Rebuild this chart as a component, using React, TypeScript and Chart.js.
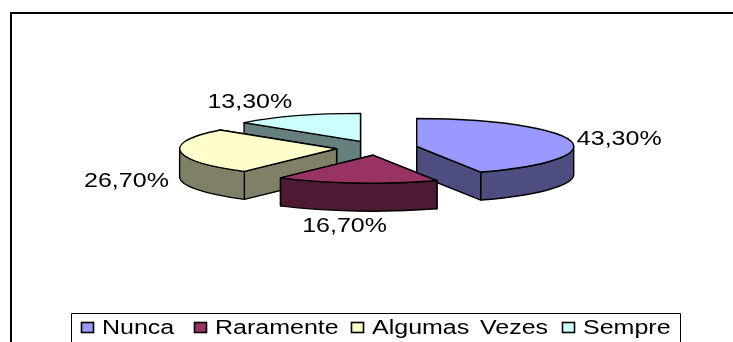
import React, { useEffect, useRef } from "react";
import { Chart, registerables } from "chart.js";

Chart.register(...registerables);

const categories = ["Nunca", "Raramente", "Algumas Vezes", "Sempre"];
const values = [43.3, 16.7, 26.7, 13.3];
const valueLabels = ["43,30%", "16,70%", "26,70%", "13,30%"];
const topColors = ["#9999FF", "#993366", "#FFFFCC", "#CCFFFF"];
const sideColors = ["#4D4D80", "#4D1A33", "#808066", "#668080"];

const RADIUS = 157;
const SQUASH = 28 / 157;
const DEPTH = 28;
const EXPLODE = 40.6;
const FONT = '20px "Liberation Sans", Arial, sans-serif';
const STRETCH = 1.25;
const DRAW_ORDER = [3, 2, 0, 1];
const LABEL_NUDGE = [
  [49, -2],
  [-12, 43],
  [-54, 29],
  [-47, -14],
];
const LEGEND_X = [81, 194, 351, 562];

function stretchedText(ctx: CanvasRenderingContext2D, text: string, x: number, y: number, align: "left" | "center") {
  ctx.save();
  ctx.translate(x, y);
  ctx.scale(STRETCH, 1);
  ctx.font = FONT;
  ctx.fillStyle = "#000";
  ctx.textAlign = align;
  ctx.textBaseline = "alphabetic";
  (ctx as any).wordSpacing = "3px";
  ctx.fillText(text, 0, 0);
  ctx.restore();
}

const pie3d = {
  id: "pie3d",
  beforeDraw(chart: any) {
    const { ctx } = chart;
    ctx.save();
    ctx.fillStyle = "#fff";
    ctx.fillRect(0, 0, chart.width, chart.height);
    ctx.strokeStyle = "#000";
    ctx.lineWidth = 2;
    ctx.beginPath();
    ctx.moveTo(11, chart.height);
    ctx.lineTo(11, 13);
    ctx.lineTo(chart.width, 13);
    ctx.stroke();
    ctx.restore();
  },
  beforeDatasetsDraw(chart: any) {
    const { ctx } = chart;
    const arcs = chart.getDatasetMeta(0).data;
    const centre = (el: any) => {
      const mid = (el.startAngle + el.endAngle) / 2;
      return {
        x: el.x + Math.cos(mid) * EXPLODE,
        y: el.y + Math.sin(mid) * EXPLODE * SQUASH,
      };
    };
    const rim = (c: any, el: any, a: number) => ({
      x: c.x + Math.cos(a) * el.outerRadius,
      y: c.y + Math.sin(a) * el.outerRadius * SQUASH,
    });

    ctx.save();
    ctx.lineWidth = 1.4;
    ctx.strokeStyle = "#000";
    ctx.lineJoin = "round";

    DRAW_ORDER.forEach((i) => {
      const el = arcs[i];
      const c = centre(el);
      const side = sideColors[i];
      const edges = [el.startAngle, el.endAngle]
        .map((a) => rim(c, el, a))
        .sort((p, q) => p.y - q.y);

      edges.forEach((p) => {
        ctx.beginPath();
        ctx.moveTo(c.x, c.y);
        ctx.lineTo(p.x, p.y);
        ctx.lineTo(p.x, p.y + DEPTH);
        ctx.lineTo(c.x, c.y + DEPTH);
        ctx.closePath();
        ctx.fillStyle = side;
        ctx.fill();
        ctx.stroke();
      });

      const from = Math.max(el.startAngle, 0);
      const to = Math.min(el.endAngle, Math.PI);
      if (to > from) {
        const ry = el.outerRadius * SQUASH;
        ctx.beginPath();
        ctx.ellipse(c.x, c.y, el.outerRadius, ry, 0, from, to);
        ctx.ellipse(c.x, c.y + DEPTH, el.outerRadius, ry, 0, to, from, true);
        ctx.closePath();
        ctx.fillStyle = side;
        ctx.fill();
        ctx.stroke();
      }

      ctx.save();
      ctx.translate(c.x, c.y);
      ctx.scale(1, SQUASH);
      ctx.translate(-el.x, -el.y);
      el.draw(ctx);
      ctx.restore();

      ctx.beginPath();
      ctx.moveTo(c.x, c.y);
      ctx.ellipse(c.x, c.y, el.outerRadius, el.outerRadius * SQUASH, 0, el.startAngle, el.endAngle);
      ctx.closePath();
      ctx.stroke();
    });
    ctx.restore();

    arcs.forEach((el: any, i: number) => {
      const mid = (el.startAngle + el.endAngle) / 2;
      const p = rim(centre(el), el, mid);
      stretchedText(ctx, valueLabels[i], p.x + LABEL_NUDGE[i][0], p.y + LABEL_NUDGE[i][1] + 6, "center");
    });

    // legend frame, open at the bottom of the picture
    ctx.save();
    ctx.strokeStyle = "#000";
    ctx.lineWidth = 1;
    ctx.beginPath();
    ctx.moveTo(71.5, chart.height + 1);
    ctx.lineTo(71.5, 313.5);
    ctx.lineTo(680.5, 313.5);
    ctx.lineTo(680.5, chart.height + 1);
    ctx.stroke();
    categories.forEach((name, i) => {
      ctx.fillStyle = topColors[i];
      ctx.fillRect(LEGEND_X[i] + 0.5, 322.5, 12, 10);
      ctx.lineWidth = 1.6;
      ctx.strokeRect(LEGEND_X[i] + 0.5, 322.5, 12, 10);
      stretchedText(ctx, name, LEGEND_X[i] + 21, 334, "left");
    });
    ctx.restore();
    return false;
  },
};

export default function App() {
  const ref = useRef<HTMLCanvasElement>(null);
  useEffect(() => {
    if (!ref.current) return;
    const chart = new Chart(ref.current, {
      type: "pie",
      data: {
        labels: categories,
        datasets: [
          {
            data: values,
            backgroundColor: topColors,
            borderWidth: 0,
          },
        ],
      },
      options: {
        responsive: false,
        animation: false,
        radius: RADIUS,
        layout: { padding: { left: 21, right: 0, top: 0, bottom: 46 } },
        plugins: { legend: { display: false }, tooltip: { enabled: false } },
      } as any,
      plugins: [pie3d],
    });
    return () => chart.destroy();
  }, []);
  return (
    <div style={{ position: "absolute", left: 0, top: 0, width: 733, height: 342, overflow: "hidden", background: "#fff" }}>
      <canvas ref={ref} width={733} height={342} style={{ display: "block" }} />
    </div>
  );
}
